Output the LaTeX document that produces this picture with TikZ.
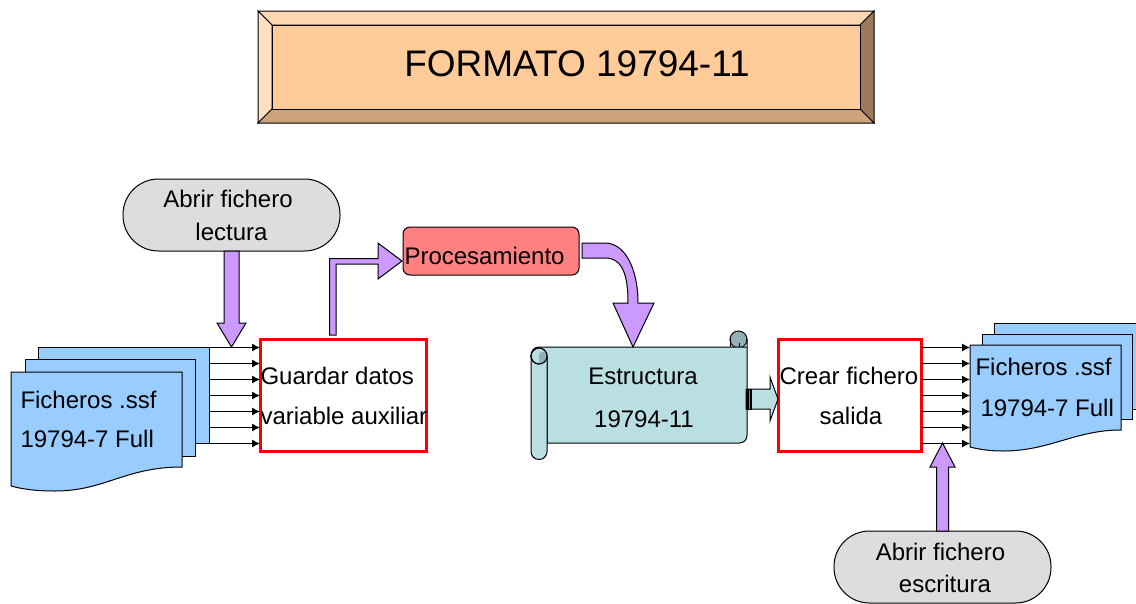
\documentclass[tikz,border=0pt]{standalone}
\usepackage{fontspec}
\setmainfont{Liberation Sans}
\usetikzlibrary{arrows.meta}

\definecolor{facecol}{HTML}{FFCC99}
\definecolor{bevtop}{HTML}{FFD8B2}
\definecolor{bevleft}{HTML}{FFE0C2}
\definecolor{bevright}{HTML}{9C7A5C}
\definecolor{bevbottom}{HTML}{CCA37A}
\definecolor{sheetcol}{HTML}{99CCFF}
\definecolor{flowcol}{HTML}{CC99FF}
\definecolor{pillcol}{HTML}{DDDDDD}
\definecolor{proccol}{HTML}{FF8080}
\definecolor{scrollcol}{HTML}{B9DFE3}
\definecolor{scrolldark}{HTML}{94B2B6}

\tikzset{
    lbl/.style={font=\fontsize{24}{28}\selectfont,inner sep=0pt},
    sheet/.style={rectangle,draw=black,fill=sheetcol,inner sep=0pt,outer sep=0pt},
    bluebox/.style={draw=black,fill=sheetcol,line join=miter},
    redbox/.style={rectangle,draw=red,fill=white,line width=3pt,inner sep=0pt,outer sep=0pt,
        minimum width=166pt,minimum height=112pt},
    pill/.style={rectangle,draw=black,fill=pillcol,rounded corners=35.5pt,inner sep=0pt,outer sep=0pt,
        minimum width=217pt,minimum height=72pt},
    flow/.style={draw=black,fill=flowcol,line join=miter},
    feed/.style={draw=black,-{Latex[length=8pt,width=8pt]}},
}

\begin{document}
\begin{tikzpicture}[x=1pt,y=-1pt,line width=1pt]

\clip (0,0) rectangle (1136,603);

% title
\filldraw[fill=bevtop,draw=black]    (258,11)  -- (874,11)  -- (860,25)  -- (272,25)  -- cycle;
\filldraw[fill=bevleft,draw=black]   (258,11)  -- (272,25)  -- (272,109) -- (258,123) -- cycle;
\filldraw[fill=bevright,draw=black]  (874,11)  -- (874,123) -- (860,109) -- (860,25)  -- cycle;
\filldraw[fill=bevbottom,draw=black] (258,123) -- (272,109) -- (860,109) -- (874,123) -- cycle;
\node[rectangle,draw=black,fill=facecol,minimum width=588pt,minimum height=84pt,inner sep=0pt] (title) at (566,67) {};
\node[font=\fontsize{37}{40}\selectfont,inner sep=0pt,anchor=base] (titletext) at (577,76) {FORMATO 19794-11};

% input files
\node[sheet,minimum width=171pt,minimum height=96pt] (inback) at (123.5,395) {};
\node[sheet,minimum width=170pt,minimum height=97pt] (inmid)  at (110,407.5) {};
\filldraw[bluebox] (11,372) -- (182,372) -- (182,467)
    .. controls (125,467) and (105,491) .. (55,491)
    .. controls (35,491) and (22,489) .. (11,486) -- cycle;
\node[lbl,anchor=base west] (inname) at (20,408.5) {Ficheros .ssf};
\node[lbl,anchor=base west] (inform) at (20,447.5) {19794-7 Full};

% output files
\node[sheet,minimum width=160pt,minimum height=86pt] (outback) at (1074,366) {};
\node[sheet,minimum width=150pt,minimum height=85pt] (outmid)  at (1057,376.5) {};
\filldraw[bluebox] (970,345) -- (1121,345) -- (1121,430)
    .. controls (1075,430) and (1050,451) .. (1003,451)
    .. controls (992,451) and (982,450) .. (970,447) -- cycle;
\node[lbl,anchor=base west] (outname) at (975,375.5) {Ficheros .ssf};
\node[lbl,anchor=base west] (outform) at (980,416.5) {19794-7 Full};

% boxes
\node[redbox] (guardar) at (343,395.5) {};
\node[lbl,anchor=base west] (guardara) at (260,384.5) {Guardar datos};
\node[lbl,anchor=base west] (guardarb) at (260,424.5) {variable auxiliar};

\node[redbox,minimum width=143pt] (crear) at (849.5,395.5) {};
\node[lbl,anchor=base] (creara) at (849,384.5) {Crear fichero};
\node[lbl,anchor=base] (crearb) at (851,424.5) {salida};

\node[rectangle,draw=black,fill=proccol,rounded corners=7pt,minimum width=176pt,minimum height=48pt,
      inner sep=0pt,outer sep=0pt] (proc) at (491,251) {};
\node[lbl,anchor=base west] (proctext) at (404,264.5) {Procesamiento};

\node[pill] (lectura) at (231.5,215) {};
\node[lbl,anchor=base] (lecturaa) at (228,207.5) {Abrir fichero};
\node[lbl,anchor=base] (lecturab) at (231.5,240) {lectura};

\node[pill] (escritura) at (942.5,567) {};
\node[lbl,anchor=base] (escrituraa) at (940.5,560.5) {Abrir fichero};
\node[lbl,anchor=base] (escriturab) at (945,592.5) {escritura};

% scroll
\filldraw[fill=scrolldark,draw=black] (738.5,339.5) circle (8.5pt);
\draw (730,339) -- (730,347) (739,347) -- (739,343);
\filldraw[fill=scrollcol,draw=black]
    (531,356) .. controls (531,351) and (534,347) .. (539,347) -- (747,347) -- (747,339) -- (747,435)
    .. controls (747,440) and (744,443) .. (739,443) -- (547,443) -- (547,356) -- cycle;
\node[rectangle,draw=black,fill=scrollcol,rounded corners=7.9pt,minimum width=16pt,minimum height=109pt,
      inner sep=0pt,outer sep=0pt] (scrollroll) at (539,405) {};
\filldraw[fill=scrollcol,draw=black] (539,356) circle (8pt);
\filldraw[fill=scrolldark,draw=none]
    (539,364) -- (539,355) .. controls (539,351) and (546,350) .. (547,356)
    .. controls (547,360) and (544,364) .. (539,364) -- cycle;
\draw (539,356) circle (8pt);
\node[lbl,anchor=base] (scrolla) at (643,384.5) {Estructura};
\node[lbl,anchor=base] (scrollb) at (644,427.5) {19794-11};

% feeds
\foreach \y in {347.5,363.5,379.5,395.5,411.5,427.5,443.5}
    \draw[feed] (inback.east |- 0,\y) -- (guardar.west |- 0,\y);
\foreach \y in {347.5,363.5,379.5,395.5,411.5,427.5,443.5}
    \draw[feed] (crear.east |- 0,\y) -- (970,\y);

% block arrows
\filldraw[flow,shift={(lectura.south)}]
    (-7.5,0) -- (7.5,0) -- (7.5,72) -- (14.5,72) -- (0,96) -- (-14.5,72) -- (-7.5,72) -- cycle;
\filldraw[flow,shift={(escritura.north)}]
    (-6,0) -- (6,0) -- (6,-64) -- (12.5,-64) -- (0,-88) -- (-12.5,-64) -- (-6,-64) -- cycle;
\filldraw[flow,shift={(proc.west)}]
    (-73.5,84) -- (-73.5,7.5) -- (-25,7.5) -- (-25,-8) -- (-1,10) -- (-25,28) -- (-25,13) -- (-67,13) -- (-67,84) -- cycle;
\filldraw[flow,shift={(proc.east)}]
    (3,-8) -- (26,-8) .. controls (46,-8) and (59,18) .. (59,52) -- (75,52) -- (54,96) -- (34,52) -- (49,52)
    .. controls (49,25) and (44,7) .. (26,7) -- (3,7) -- cycle;

% output arrow
\filldraw[draw=black,fill=scrollcol,line join=miter] (746,389) -- (770,389) -- (770,377) -- (778,399)
    -- (770,421) -- (770,409) -- (746,409) -- cycle;
\fill[black] (745.5,389) rectangle (752,409.5);
\draw[gray,line width=.8pt] (749,390) -- (749,409);

\end{tikzpicture}
\end{document}
